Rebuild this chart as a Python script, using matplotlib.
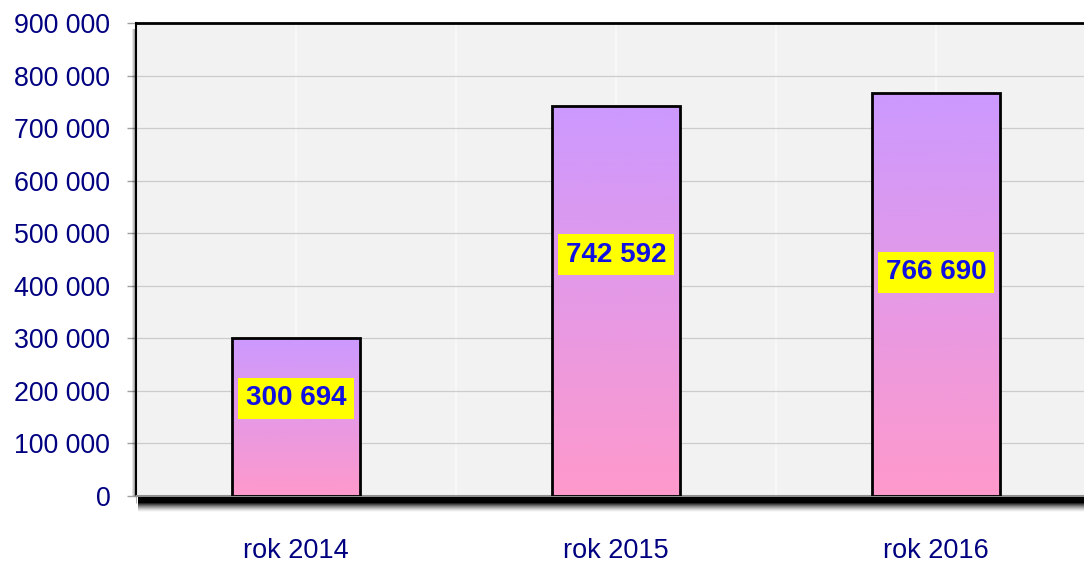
import numpy as np
import matplotlib.pyplot as plt
from matplotlib.ticker import FuncFormatter, MultipleLocator

plt.rcParams['font.family'] = ['Liberation Sans', 'DejaVu Sans']

# data
categories = ['rok 2014', 'rok 2015', 'rok 2016']
values = [300694, 742592, 766690]
# where the value boxes sit (in data units)
label_y = [186000, 459000, 426000]

navy = '#000080'

fig = plt.figure(figsize=(10.84, 5.63), dpi=100)
W, H = 1084, 563
ax = fig.add_axes([136 / W, (H - 496) / H, 960 / W, 473 / H])
ax.set_facecolor('#f2f2f2')

x = np.arange(len(categories))

# grid
ax.yaxis.set_major_locator(MultipleLocator(100000))
ax.xaxis.set_minor_locator(MultipleLocator(0.5))
ax.grid(axis='y', color='#cccccc', lw=0.9, zorder=0)
ax.grid(axis='x', which='both', color='#fafafa', lw=1.2, zorder=0)
ax.set_axisbelow(True)

# bars with purple (top) -> pink (bottom) gradient
bars = ax.bar(x, values, width=0.4, facecolor='none', edgecolor='black',
              lw=2.0, zorder=3)
t = np.linspace(0, 1, 256)[:, None, None]
top = np.array([0xcc, 0x99, 0xff]) / 255
bot = np.array([0xff, 0x99, 0xcc]) / 255
rgb = top * (1 - t) + bot * t
for b in bars:
    x0, w, h = b.get_x(), b.get_width(), b.get_height()
    im = ax.imshow(rgb, extent=[x0, x0 + w, 0, h], origin='upper',
                   aspect='auto', zorder=2)
    im.set_clip_path(b)
ax.set_xlim(-0.5, 2.5)
ax.set_ylim(0, 900000)

# value boxes
for xi, v, ly in zip(x, values, label_y):
    ax.text(xi, ly, f'{v:,}'.replace(',', ' '), ha='center', va='center',
            fontsize=20, fontweight='bold', color='#1010e0', zorder=5,
            bbox=dict(boxstyle='square,pad=0.27', fc='yellow', ec='none'))

# ticks
ax.yaxis.set_major_formatter(FuncFormatter(lambda v, p: f'{int(v):,}'.replace(',', ' ')))
ax.tick_params(axis='y', length=6.5, color='#a0a0a0', width=1, pad=12,
               labelsize=19.3, labelcolor=navy)
ax.set_xticks(x)
ax.set_xticklabels(categories)
ax.tick_params(axis='x', which='major', length=0, pad=30, labelsize=19.5, labelcolor=navy)
ax.tick_params(axis='x', which='minor', length=5, color='#a0a0a0', direction='out')

# frame
ax.spines['right'].set_visible(False)
ax.spines['top'].set_color('black')
ax.spines['top'].set_linewidth(2)
ax.spines['left'].set_color('black')
ax.spines['left'].set_linewidth(1.5)
ax.spines['bottom'].set_color('#909090')
ax.spines['bottom'].set_linewidth(1.5)

# bottom shadow
sh = fig.add_axes([138 / W, (H - 513) / H, (W - 138) / W, 16 / H])
alpha = np.concatenate([np.ones(6), np.linspace(0.9, 0, 10) ** 1.5]).reshape(-1, 1)
img = np.zeros((16, 1, 4))
img[..., 3] = alpha
sh.imshow(img, aspect='auto', extent=[0, 1, 0, 1])
sh.set_axis_off()

# left shadow
ls = fig.add_axes([131 / W, (H - 496) / H, 5 / W, 467 / H])
img2 = np.zeros((1, 5, 4))
img2[..., 3] = np.linspace(0, 0.45, 5)
ls.imshow(img2, aspect='auto', extent=[0, 1, 0, 1])
ls.set_axis_off()

fig.savefig('out.png', dpi=100)
